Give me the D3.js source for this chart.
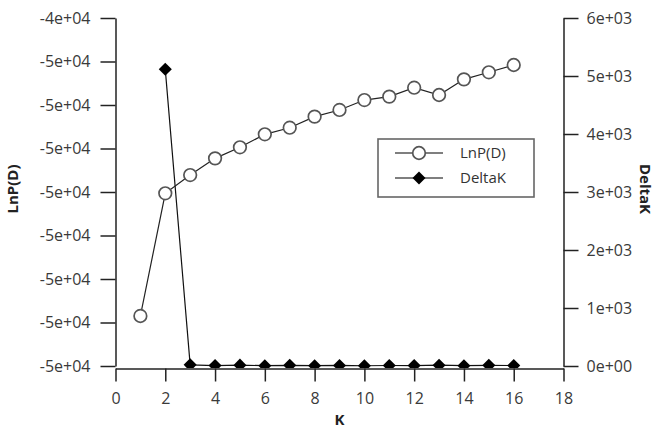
<!DOCTYPE html>
<head>
	<meta charset="utf-8">
	<title>LnP(D) and DeltaK</title>
	<script src="https://cdn.jsdelivr.net/npm/d3@7"></script>
	<style>
		body { margin: 0; background: white; }
		text { font-family: 'Open Sans', sans-serif; }
		.axis path, .axis line { stroke: #222; stroke-width: 1.5px; }
		.axis text { fill: #3a3a3a; }
		.title { font-size: 15px; font-weight: bold; fill: #222; }
	</style>
</head>
<body>
	<script>
		var K = [1,2,3,4,5,6,7,8,9,10,11,12,13,14,15,16];
		var lnp = [-47925,-46515,-46305,-46113,-45986,-45837,-45761,-45634,-45557,-45443,-45404,-45301,-45385,-45205,-45124,-45040];
		var deltaK = [null,5115,20,8,15,5,12,6,10,4,9,7,14,6,11,8];
		var xTicks = [0,2,4,6,8,10,12,14,16,18];
		var leftTicks = [-48500,-48000,-47500,-47000,-46500,-46000,-45500,-45000,-44500];
		var rightTicks = [0,1000,2000,3000,4000,5000,6000];

		var width = 659, height = 432;
		var pLeft = 115.5, pRight = 563.5, pTop = 18, pBottom = 366;

		var svg = d3.select("body").append("svg")
			.attr("width", width)
			.attr("height", height);

		var x = d3.scaleLinear().domain([0, 18]).range([pLeft, pRight]);
		var yL = d3.scaleLinear().domain([-48500, -44500]).range([pBottom, pTop]);
		var yR = d3.scaleLinear().domain([0, 6000]).range([pBottom, pTop]);

		// 5e+4 -> 5e+04
		function sci(v) {
			var s = Math.abs(v).toExponential(0).split("e");
			var e = s[1][0] + s[1].slice(1).padStart(2, "0");
			return (v < 0 ? "-" : "") + s[0] + "e" + e;
		}

		svg.append("g").attr("class", "axis")
			.attr("transform", "translate(0," + (pBottom + 2.5) + ")")
			.call(d3.axisBottom(x).tickValues(xTicks).tickSize(13).tickSizeOuter(0).tickPadding(11))
			.attr("font-size", 16).attr("font-family", null);

		svg.append("g").attr("class", "axis")
			.attr("transform", "translate(" + pLeft + ",0)")
			.call(d3.axisLeft(yL).tickValues(leftTicks).tickFormat(sci).tickSize(15).tickSizeOuter(0).tickPadding(10))
			.attr("font-size", 16).attr("font-family", null);

		svg.append("g").attr("class", "axis")
			.attr("transform", "translate(" + pRight + ",0)")
			.call(d3.axisRight(yR).tickValues(rightTicks).tickFormat(sci).tickSize(15).tickSizeOuter(0).tickPadding(8))
			.attr("font-size", 16).attr("font-family", null);

		svg.append("text").attr("class", "title")
			.attr("transform", "translate(18,189) rotate(-90)")
			.attr("text-anchor", "middle")
			.text("LnP(D)");
		svg.append("text").attr("class", "title")
			.attr("transform", "translate(640,189) rotate(90)")
			.attr("text-anchor", "middle")
			.text("DeltaK");
		svg.append("text").attr("class", "title")
			.attr("x", (pLeft + pRight) / 2).attr("y", 425)
			.attr("text-anchor", "middle")
			.text("K");

		svg.append("clipPath").attr("id", "plot")
			.append("rect").attr("x", pLeft).attr("y", 0).attr("width", pRight - pLeft).attr("height", pBottom + 2);

		var diamond = d3.symbol().type(d3.symbolSquare).size(85);

		// DeltaK
		var dk = K.map(function(k, i) { return {k: k, v: deltaK[i]}; }).filter(function(d) { return d.v !== null; });
		var g2 = svg.append("g").attr("clip-path", "url(#plot)");
		g2.append("path")
			.datum(dk)
			.attr("fill", "none").attr("stroke", "#111").attr("stroke-width", 1.2)
			.attr("d", d3.line().x(function(d) { return x(d.k); }).y(function(d) { return yR(d.v); }));
		g2.selectAll("path.dk").data(dk).enter().append("path")
			.attr("class", "dk")
			.attr("transform", function(d) { return "translate(" + x(d.k) + "," + yR(d.v) + ") rotate(45)"; })
			.attr("d", diamond)
			.attr("fill", "#000");

		// LnP(D)
		var lp = K.map(function(k, i) { return {k: k, v: lnp[i]}; });
		svg.append("path")
			.datum(lp)
			.attr("fill", "none").attr("stroke", "#222").attr("stroke-width", 1.2)
			.attr("d", d3.line().x(function(d) { return x(d.k); }).y(function(d) { return yL(d.v); }));
		svg.selectAll("circle.lp").data(lp).enter().append("circle")
			.attr("class", "lp")
			.attr("cx", function(d) { return x(d.k); })
			.attr("cy", function(d) { return yL(d.v); })
			.attr("r", 6.3)
			.attr("fill", "white")
			.attr("stroke", "#555").attr("stroke-width", 1.7);

		// legend
		var lg = svg.append("g");
		lg.append("rect").attr("x", 378).attr("y", 139).attr("width", 156).attr("height", 58)
			.attr("fill", "white").attr("stroke", "#666").attr("stroke-width", 1.6);
		lg.append("line").attr("x1", 395).attr("x2", 443).attr("y1", 153).attr("y2", 153)
			.attr("stroke", "#555").attr("stroke-width", 1.5);
		lg.append("circle").attr("cx", 419).attr("cy", 153).attr("r", 6.3)
			.attr("fill", "white").attr("stroke", "#555").attr("stroke-width", 1.7);
		lg.append("line").attr("x1", 395).attr("x2", 443).attr("y1", 178).attr("y2", 178)
			.attr("stroke", "#555").attr("stroke-width", 1.5);
		lg.append("path").attr("transform", "translate(419,178) rotate(45)")
			.attr("d", diamond).attr("fill", "#000");
		lg.append("text").attr("x", 460).attr("y", 158).style("font-size", "15px").style("fill", "#333").text("LnP(D)");
		lg.append("text").attr("x", 460).attr("y", 183).style("font-size", "15px").style("fill", "#333").text("DeltaK");
	</script>
</body>
